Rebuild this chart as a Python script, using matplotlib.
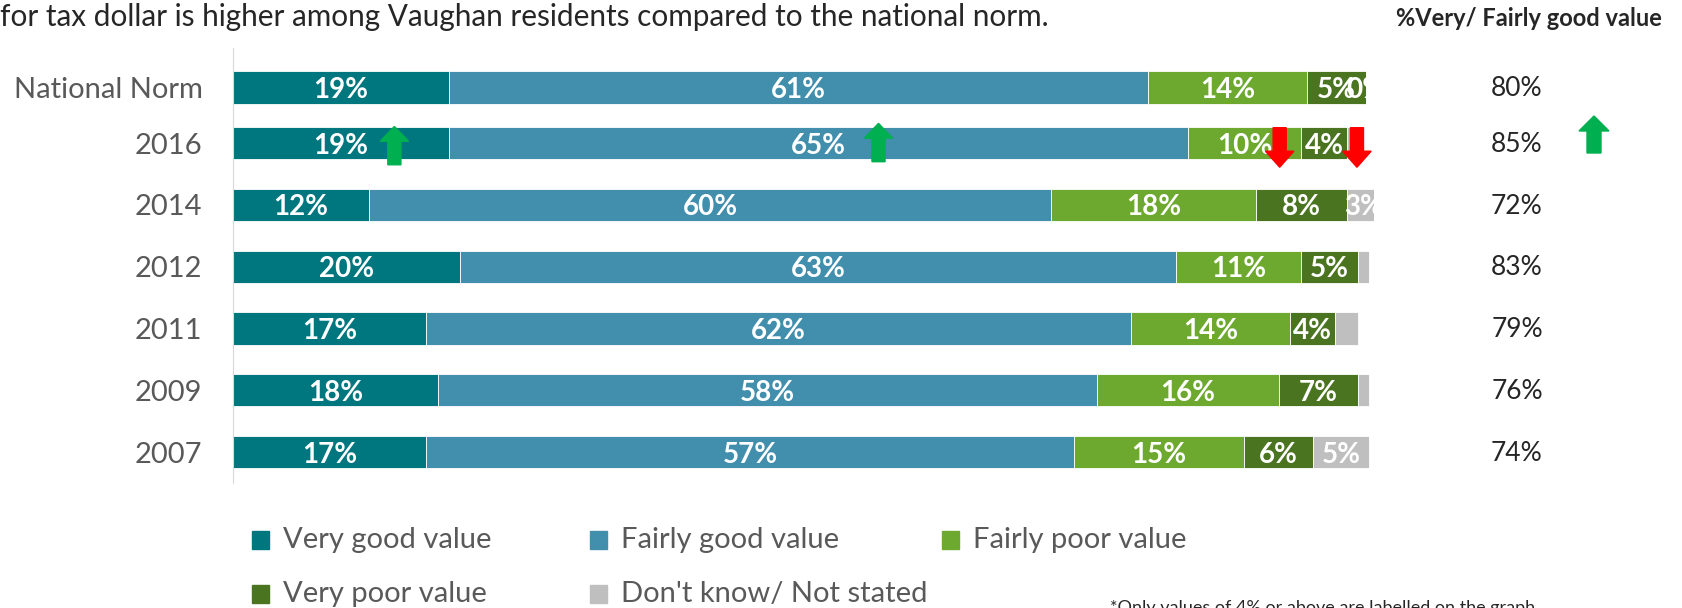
import matplotlib
matplotlib.use("Agg")
import matplotlib.pyplot as plt
import matplotlib.transforms as mtransforms
from matplotlib.patches import Rectangle, FancyArrow
import numpy as np

plt.rcParams['font.family'] = ['Lato', 'DejaVu Sans']

categories = ["National Norm", "2016", "2014", "2012", "2011", "2009", "2007"]
series_names = ["Very good value", "Fairly good value", "Fairly poor value",
                "Very poor value", "Don't know/ Not stated"]
very_good = [19, 19, 12, 20, 17, 18, 17]
fairly_good = [61.5, 65, 60, 63, 62, 58, 57]
fairly_poor = [14, 10, 18, 11, 14, 16, 15]
very_poor = [5.2, 4, 8, 5, 4, 7, 6]
dont_know = [0, 0.3, 3, 1, 2, 1, 5]
# labels as shown on the chart ('' = not labelled)
lab_very_good = ["19%", "19%", "12%", "20%", "17%", "18%", "17%"]
lab_fairly_good = ["61%", "65%", "60%", "63%", "62%", "58%", "57%"]
lab_fairly_poor = ["14%", "10%", "18%", "11%", "14%", "16%", "15%"]
lab_very_poor = ["5%", "4%", "8%", "5%", "4%", "7%", "6%"]
lab_dont_know = ["0%", "", "3%", "", "", "", "5%"]
good_total = ["80%", "85%", "72%", "83%", "79%", "76%", "74%"]

colors = ["#00767E", "#428FAD", "#6DA92F", "#4A7420", "#BFBFBF"]
series = [very_good, fairly_good, fairly_poor, very_poor, dont_know]
labels = [lab_very_good, lab_fairly_good, lab_fairly_poor, lab_very_poor, lab_dont_know]

W, H = 1682, 608
fig = plt.figure(figsize=(W / 100, H / 100), dpi=100)
ax = fig.add_axes([233 / W, 1 - 483 / H, (1374 - 233) / W, (483 - 48) / H])

# row positions (layout): National Norm sits slightly closer to 2016
y = np.array([0.1, 1, 2, 3, 4, 5, 6])
left = np.zeros(len(categories))
for vals, col, labs in zip(series, colors, labels):
    vals = np.array(vals, dtype=float)
    ax.barh(y, vals, left=left, height=0.52, color=col, edgecolor='white', linewidth=0.6)
    for i, (v, l) in enumerate(zip(vals, labs)):
        if l:
            ax.text(left[i] + v / 2, y[i] + 0.04, l, ha='center', va='center',
                    color='white', fontsize=20, fontweight='bold', clip_on=True)
    left += vals

ax.set_xlim(0, 100.4)
ax.set_ylim(6.5, -0.54)
ax.set_yticks(y)
ax.set_yticklabels(categories, fontsize=21, color='#595959')
ax.tick_params(axis='y', length=0, pad=22)
ax.set_xticks([])
for s in ['top', 'right', 'bottom']:
    ax.spines[s].set_visible(False)
ax.spines['left'].set_color('#D9D9D9')

# significance arrows (row "2016")
def up_arrow(xd, yd, color='#00B050'):
    ax.add_patch(FancyArrow(xd, yd + 0.32, 0, -0.62, width=1.15, head_width=2.5,
                            head_length=0.24, length_includes_head=True,
                            color=color, clip_on=False, zorder=5))

def down_arrow(xd, yd, color='#FF0000'):
    ax.add_patch(FancyArrow(xd, yd - 0.28, 0, 0.64, width=1.15, head_width=2.5,
                            head_length=0.26, length_includes_head=True,
                            color=color, clip_on=False, zorder=5))

up_arrow(14.2, 1.03)
up_arrow(56.8, 0.98)
down_arrow(92.1, 1.03)
down_arrow(98.9, 1.03)

# right column
fig.text(1529 / W, 1 - 19 / H, "%Very/ Fairly good value", ha='center', va='center',
         fontsize=17, fontweight='bold', color='#262626')
tr = mtransforms.blended_transform_factory(mtransforms.IdentityTransform(), ax.transData)
for i, t in enumerate(good_total):
    ax.text(1517, y[i] + 0.02, t, transform=tr, ha='center', va='center',
            fontsize=19, color='#262626', clip_on=False)

fig.patches.append(FancyArrow(1594 / W, 1 - 153 / H, 0, 37 / H, width=14 / W, head_width=30 / W,
                              head_length=15 / H, length_includes_head=True,
                              color='#00B050', transform=fig.transFigure))

# title fragment
fig.text(0, 1 - 17 / H, "for tax dollar is higher among Vaughan residents compared to the national norm.",
         ha='left', va='center', fontsize=21.4, color='#262626')

# legend
leg_x = [261, 599, 951, 261, 599]
leg_y = [540, 540, 540, 594, 594]
for name, col, lx, ly in zip(series_names, colors, leg_x, leg_y):
    fig.patches.append(Rectangle((lx / W - 9 / W, 1 - (ly + 9) / H), 17 / W, 18 / H,
                                 color=col, transform=fig.transFigure))
    fig.text((lx + 22) / W, 1 - ly / H, name, ha='left', va='center', fontsize=21, color='#595959')

fig.text(1110 / W, 1 - 600 / H, "*Only values of 4% or above are labelled on the graph",
         ha='left', va='top', fontsize=13, color='#262626')

fig.savefig("out.png", dpi=100)
